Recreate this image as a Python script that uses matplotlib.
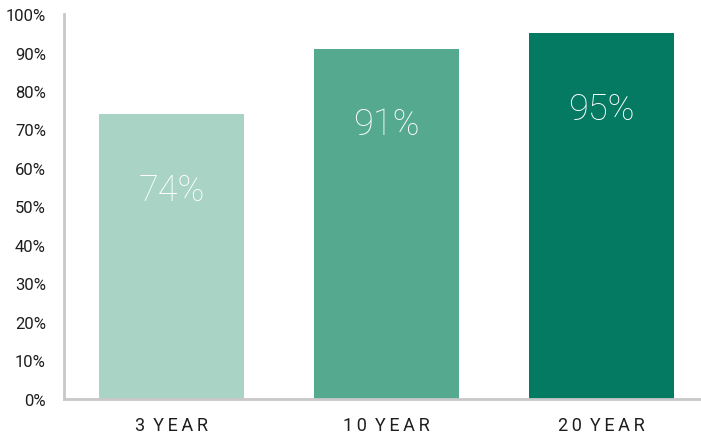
import matplotlib
matplotlib.use("Agg")
import matplotlib.pyplot as plt
from matplotlib.ticker import FuncFormatter

categories = ["3 YEAR", "10 YEAR", "20 YEAR"]
values = [74, 91, 95]
colors = ["#A9D4C5", "#55A98E", "#047A63"]
yticks = list(range(0, 101, 10))

plt.rcParams['font.family'] = ['Roboto', 'DejaVu Sans']

fig = plt.figure(figsize=(7.01, 4.39), dpi=100)
ax = fig.add_axes([64/701, 39/439, 645/701, 385/439])
x = range(len(categories))
bars = ax.bar(x, values, width=0.67, color=colors, zorder=2)
ax.set_xlim(-0.5, 2.5)
ax.set_ylim(0, 100)
ax.set_yticks(yticks)
ax.yaxis.set_major_formatter(FuncFormatter(lambda v, p: f"{int(v)}%"))
ax.set_xticks(list(x))
ax.set_xticklabels(["\u2009 ".join("\u2009".join(list(w)) for w in c.split(" ")) for c in categories])
ax.tick_params(axis='y', length=0, pad=13, labelsize=12, labelcolor="#1E1E1E")
ax.tick_params(axis='x', length=0, pad=12, labelsize=13, labelcolor="#1E1E1E")
for s in ["top", "right"]:
    ax.spines[s].set_visible(False)
for s in ["left", "bottom"]:
    ax.spines[s].set_color("#C8C8C8")
    ax.spines[s].set_linewidth(2)

for xi, v in zip(x, values):
    ax.text(xi, v - 19.6, f"{v}%", ha="center", va="center", color="white",
            fontsize=26, fontweight="light")

fig.savefig("out.png", dpi=100)
